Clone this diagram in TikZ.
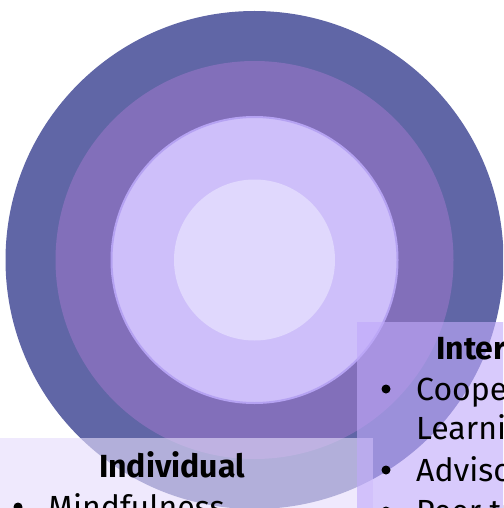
\documentclass[tikz,border=0pt]{standalone}
\usepackage{xcolor}
\usepackage{fontspec}
\setmainfont{Fira Sans}
\usetikzlibrary{positioning}

\definecolor{ringouter}{HTML}{6066A6}
\definecolor{ringmid}{HTML}{826FBA}
\definecolor{ringlight}{HTML}{CEBFFA}
\definecolor{ringrim}{HTML}{B5A2F2}
\definecolor{ringcore}{HTML}{E0D8FD}
\definecolor{panelleft}{HTML}{E5DCFB}
\definecolor{panelright}{HTML}{C0AAFA}

\tikzset{
	ring/.style={circle, inner sep=0pt, minimum size=#1},
	panel/.style={fill=#1, fill opacity=0.62, inner sep=0pt},
	heading/.style={font=\bfseries\fontsize{32}{38}\selectfont, inner sep=0pt},
	entry/.style={font=\fontsize{32}{39}\selectfont, anchor=base west, inner sep=0pt},
	dot/.style={circle, fill=black, inner sep=0pt, minimum size=9pt}
}

\begin{document}
\begin{tikzpicture}[x=1pt, y=-1pt]
				% We will draw the circles here
				\useasboundingbox (0,0) rectangle (503,508);
				\clip (0,0) rectangle (503,508);
				
				\node[ring=498pt, fill=ringouter] (outer) at (254.5,260) {};
				\node[ring=398pt, fill=ringmid] (mid) at (outer.center) {};
				\node[ring=286pt, fill=ringlight, draw=ringrim, line width=2pt] (light) at (outer.center) {};
				\node[ring=161pt, fill=ringcore] (core) at (outer.center) {};
				
				% the two boxes
				\node[panel=panelleft, minimum width=400pt, minimum height=120pt, anchor=north east] (leftbox) at (373,438) {};
				\node[panel=panelright, minimum width=200pt, minimum height=220pt, anchor=north west] (rightbox) at (357,322) {};
				
				% right box text
				\node[heading, anchor=base west] (inter) at (436,359) {Interpersonal};
				\node[dot] (d1) at (386,389) {};
				\node[entry] (coop) at (416,400) {Cooperative};
				\node[entry] (learn) at (416,439) {Learning};
				\node[dot] (d2) at (386,470) {};
				\node[entry] (advis) at (416,481) {Advisory};
				\node[dot] (d3) at (386,511) {};
				\node[entry] (peer) at (416,522) {Peer tutoring};
				
				% left box text
				\node[heading, anchor=base] (indiv) at (172,477) {Individual};
				\node[dot] (d4) at (18,507) {};
				\node[entry] (mind) at (48,518) {Mindfulness};
				
			\end{tikzpicture}
\end{document}
